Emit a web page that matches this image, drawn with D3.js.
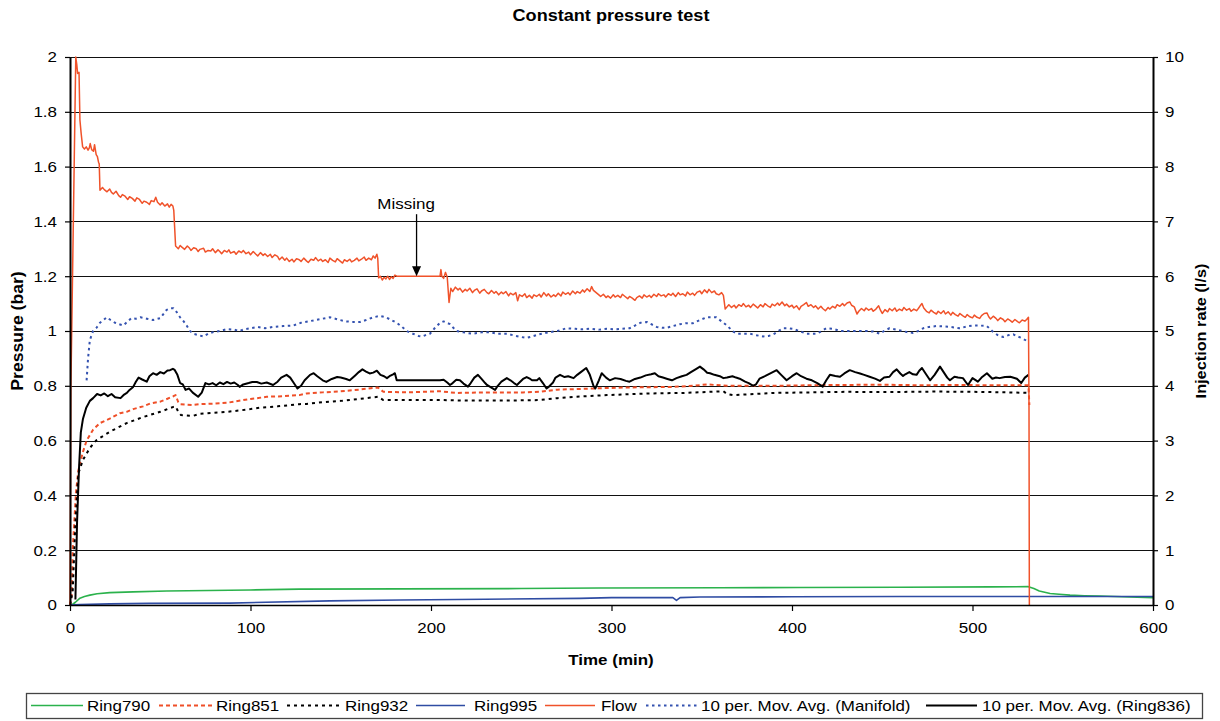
<!DOCTYPE html>
<html><head><meta charset="utf-8">
<script src="https://cdn.jsdelivr.net/npm/d3@7"></script>
<style>body{margin:0;background:#fff} text{font-family:"Liberation Sans",Arial,sans-serif}</style>
</head><body><svg id="c" width="1220" height="721"></svg>
<script>
// ---------- DATA ----------
const timeTicks = [0,100,200,300,400,500,600];
const pressureTicks = [0,0.2,0.4,0.6,0.8,1,1.2,1.4,1.6,1.8,2];
const rateTicks = [0,1,2,3,4,5,6,7,8,9,10];
const seriesNames = ["Ring790","Ring851","Ring932","Ring995","Flow","10 per. Mov. Avg. (Manifold)","10 per. Mov. Avg. (Ring836)"];

// [time (min), pressure (bar)]
const ring790 = [[0,0],[1,0],[3,0.01],[5.5,0.025],[8,0.031],[11,0.036],[15,0.041],[22,0.045],[35,0.048],[53.6,0.051],[100,0.055],[127,0.058],[183,0.059],[250,0.06],[293,0.062],[360,0.063],[404,0.064],[460,0.065],[510,0.066],[531,0.067],[534,0.06],[537,0.051],[543,0.042],[548,0.039],[554,0.036],[562,0.034],[570.6,0.033],[587,0.029],[600,0.027]];
const ring851 = [[0,0],[1,0.04],[1.5,0.2],[3.3,0.41],[4.6,0.49],[7,0.555],[9.2,0.6],[12.8,0.64],[16.6,0.664],[22,0.68],[27.7,0.70],[31.4,0.705],[35,0.715],[40.5,0.725],[44.3,0.735],[50,0.742],[53.7,0.752],[57.3,0.762],[58.5,0.766],[60,0.74],[61,0.733],[68,0.73],[72,0.733],[80,0.735],[87,0.738],[90.5,0.742],[100,0.752],[105,0.756],[109,0.76],[118,0.762],[127,0.766],[131,0.772],[140,0.776],[150,0.78],[160,0.786],[170.6,0.794],[173.6,0.778],[186.5,0.776],[195,0.778],[205,0.78],[214,0.774],[233,0.776],[251,0.776],[260,0.778],[270,0.786],[280,0.788],[297.5,0.792],[310,0.794],[334,0.796],[345,0.8],[353,0.805],[364,0.8],[372,0.8],[390,0.8],[410,0.802],[426,0.803],[450,0.804],[470,0.802],[490,0.803],[510,0.802],[531,0.802],[531.5,0.73]];
const ring932 = [[0,0],[1.5,0.05],[3,0.3],[4.6,0.48],[7.2,0.53],[11,0.573],[14.7,0.602],[22,0.632],[31.4,0.664],[40.5,0.686],[50,0.705],[57.3,0.723],[58.5,0.725],[60,0.705],[61.5,0.693],[68,0.69],[72,0.698],[87,0.705],[94,0.71],[100,0.715],[105,0.72],[115,0.725],[127,0.733],[131,0.734],[140,0.74],[150,0.745],[160,0.752],[170.6,0.76],[173.6,0.748],[190,0.748],[205,0.748],[220,0.746],[242,0.746],[260,0.748],[270,0.755],[280,0.76],[297.5,0.766],[320,0.772],[340,0.774],[362,0.78],[364,0.77],[367.5,0.766],[389.6,0.774],[410,0.776],[430,0.778],[450,0.777],[480,0.779],[500,0.778],[520,0.776],[531,0.774]];
const ring995 = [[0,0],[5.5,0.002],[22,0.004],[44,0.006],[88.6,0.007],[144,0.015],[183,0.018],[230,0.021],[282.5,0.024],[300,0.027],[334,0.027],[336,0.017],[338,0.027],[349,0.029],[400,0.03],[460,0.031],[531,0.031],[600,0.031]];
// [time (min), injection rate (l/s)]
const flow = [[0,0],[0.5,4.0],[3.2,10.0],[3.8,9.85],[4.2,9.7],[5.0,9.72],[5.5,8.85],[6.2,8.6],[7.0,8.36],[8,8.32],[9,8.36],[10,8.3],[10.7,8.34],[11.2,8.42],[12,8.31],[13,8.28],[13.6,8.4],[14.5,8.22],[15.2,8.18],[15.8,8.08],[16.2,8.05],[16.6,7.57],
[18,7.62],[19,7.58],[20.5,7.54],[22,7.59],[23,7.53],[24,7.50],[25.5,7.55],[27,7.47],[28,7.44],[29,7.49],[30.5,7.46],[32,7.40],[33,7.45],[34.5,7.42],[36,7.37],[37,7.43],[38.5,7.40],[40,7.33],[41,7.37],[42.5,7.35],[44,7.31],[45,7.38],[46.5,7.36],[47.5,7.44],[48.5,7.35],[50,7.30],[51,7.34],[52.5,7.28],[54,7.32],[55,7.26],[56,7.31],[57,7.28],[57.5,7.20],
[58.5,6.55],[60,6.50],[61,6.56],[62,6.53],[63.5,6.49],[65,6.55],[66,6.52],[67,6.47],[68.5,6.52],[70,6.50],[71,6.45],[72,6.49],[74,6.51],[75,6.44],[76.5,6.47],[78,6.46],[79,6.50],[80.5,6.43],[82,6.48],[83,6.45],[84,6.41],[85.5,6.47],[87,6.44],[88,6.48],[89,6.42],[91,6.45],[92,6.40],[93.5,6.46],[95,6.43],[96,6.47],[97.5,6.41],[99,6.44],[100,6.39],[101.5,6.45],[103,6.40],[104,6.37],[105.5,6.43],[107,6.38],[108,6.41],[109.5,6.36],[111,6.40],[112,6.34],[113.5,6.39],[115,6.36],[116,6.30],[117.5,6.35],[119,6.29],[120,6.33],[121.5,6.27],[123,6.31],[124,6.26],[125.5,6.32],[127,6.30],[128,6.27],[129.5,6.33],[131,6.28],[132,6.25],[133.5,6.31],[135,6.29],[136,6.34],[137.5,6.28],[139,6.31],[140,6.27],[141.5,6.30],[143,6.25],[144,6.33],[145.5,6.29],[147,6.26],[148,6.32],[149.5,6.28],[151,6.24],[152,6.30],[153.5,6.27],[155,6.31],[156,6.26],[157.5,6.29],[159,6.33],[160,6.28],[161.5,6.31],[163,6.35],[164,6.29],[165.5,6.33],[167,6.30],[168,6.37],[169,6.33],[170,6.40],[170.5,6.33],
[171,5.97],[172,6.00],[173,5.93],[174,5.98],[175,5.95],[176,6.00],[177,5.94],[178,5.99],[179,5.96],[180,6.02],[181,6.0],[205,6.0],[205.5,6.12],[206,6.0],[207,5.96],[208,6.07],[209,5.98],
[210,5.52],[211,5.78],[212,5.72],[213.5,5.80],[215,5.75],[216,5.78],[217.5,5.71],[219,5.76],[220,5.73],[221.5,5.78],[223,5.70],[224,5.74],[225.5,5.77],[227,5.69],[228,5.73],[229.5,5.76],[231,5.70],[232,5.68],[233.5,5.74],[235,5.69],[236,5.72],[237.5,5.66],[239,5.71],[240,5.68],[241.5,5.72],[243,5.64],[244,5.69],[245.5,5.66],[247,5.70],[248,5.55],[249,5.66],[250.5,5.63],[252,5.68],[253,5.61],[254.5,5.65],[256,5.60],[257,5.66],[258.5,5.63],[260,5.67],[261,5.62],[262.5,5.70],[264,5.64],[265,5.68],[266.5,5.62],[268,5.66],[269,5.63],[270.5,5.69],[272,5.64],[273,5.71],[274.5,5.67],[276,5.70],[277,5.66],[278.5,5.73],[280,5.68],[281,5.72],[282.5,5.69],[284,5.75],[285,5.71],[286.5,5.77],[288,5.72],[289,5.81],[290,5.74],[291.5,5.70],[293,5.66],[294,5.63],[295.5,5.67],[297,5.61],[298,5.64],[299.5,5.60],[301,5.66],[302,5.62],[303.5,5.65],[305,5.61],[306,5.67],[307.5,5.63],[309,5.59],[310,5.63],[311.5,5.60],[313,5.56],[314,5.61],[315.5,5.64],[317,5.60],[318,5.66],[319.5,5.62],[321,5.65],[322,5.61],[323.5,5.67],[325,5.63],[326,5.68],[327.5,5.64],[329,5.66],[330,5.62],[331.5,5.68],[333,5.65],[334,5.69],[335.5,5.63],[337,5.70],[338,5.66],[339.5,5.68],[341,5.64],[342,5.71],[343.5,5.66],[345,5.69],[346,5.65],[347.5,5.71],[349,5.73],[350,5.68],[351.5,5.75],[353,5.70],[354,5.76],[355.5,5.70],[357,5.73],[358,5.68],[359.5,5.66],[361,5.70],[362,5.65],[363,5.40],
[364,5.44],[365,5.48],[366.5,5.43],[368,5.47],[369,5.42],[370.5,5.48],[372,5.45],[373,5.50],[374.5,5.44],[376,5.47],[377,5.43],[378.5,5.49],[380,5.45],[381,5.42],[382.5,5.48],[384,5.44],[385,5.50],[386.5,5.46],[388,5.43],[389,5.49],[390.5,5.46],[392,5.51],[393,5.47],[394.5,5.53],[396,5.46],[397,5.49],[398.5,5.44],[400,5.47],[401,5.42],[402.5,5.46],[404,5.39],[405,5.45],[406.5,5.48],[408,5.52],[409,5.45],[410.5,5.48],[412,5.43],[413,5.46],[414.5,5.40],[416,5.45],[417,5.41],[418.5,5.37],[420,5.43],[421,5.40],[422.5,5.45],[424,5.42],[425,5.48],[426.5,5.45],[428,5.50],[429,5.46],[430.5,5.51],[432,5.53],[433,5.47],[434.5,5.44],[436,5.31],[437,5.36],[438.5,5.41],[440,5.37],[441,5.42],[442.5,5.38],[444,5.41],[445,5.36],[446.5,5.40],[448,5.46],[449,5.38],[450,5.32],[451.5,5.39],[453,5.35],[454,5.41],[455.5,5.37],[457,5.42],[458,5.36],[459.5,5.40],[461,5.37],[462,5.43],[463.5,5.38],[465,5.41],[466,5.36],[467.5,5.40],[469,5.37],[470,5.41],[471,5.46],[472,5.50],[473,5.42],[474.5,5.36],[476,5.33],[477,5.38],[478.5,5.34],[480,5.31],[481,5.36],[482.5,5.32],[484,5.37],[485,5.31],[486.5,5.35],[488,5.29],[489,5.34],[490.5,5.30],[492,5.27],[493,5.32],[494.5,5.28],[496,5.25],[497,5.30],[498.5,5.26],[500,5.24],[501,5.29],[502.5,5.25],[504,5.23],[505,5.28],[506.5,5.32],[508,5.33],[509,5.26],[510,5.22],[511.5,5.27],[513,5.23],[514,5.19],[515.5,5.24],[517,5.21],[518,5.17],[519.5,5.22],[521,5.19],[522,5.16],[523.5,5.21],[525,5.17],[526,5.15],[527.5,5.20],[529,5.18],[530,5.21],[531,5.25],[531.3,3.65],[531.5,0]];
const manifoldAvg = [[9.2,0.82],[10,0.9],[11,0.967],[12.8,1.0],[14.5,1.01],[16.6,1.03],[18.5,1.04],[20.4,1.05],[22.5,1.04],[25,1.03],[27,1.025],[29.5,1.02],[32,1.035],[34,1.047],[36.5,1.045],[39,1.05],[42.5,1.045],[46,1.04],[50,1.047],[53.5,1.077],[55.5,1.083],[57.3,1.083],[59,1.07],[61,1.05],[63,1.035],[64.6,1.02],[66.5,1.0],[68.3,0.99],[71,0.985],[73.9,0.98],[76.5,0.99],[79.4,0.996],[83,1.0],[87,1.007],[91,1.005],[94,1.0],[96,1.005],[100,1.01],[104,1.015],[108,1.01],[112.5,1.015],[118,1.018],[123.7,1.02],[128,1.03],[132,1.035],[136,1.04],[140,1.045],[144,1.05],[147,1.045],[149.6,1.04],[153,1.035],[157,1.033],[160.7,1.033],[164,1.04],[168,1.05],[171.7,1.055],[175,1.05],[178,1.04],[181,1.03],[184,1.015],[186.5,1.0],[190,0.99],[193,0.982],[195,0.98],[197,0.985],[199.4,0.99],[202,1.01],[205,1.03],[207,1.035],[210.5,1.025],[214,1.0],[218,0.995],[223,0.99],[228,0.995],[232.7,0.995],[237,0.99],[242,0.99],[247,0.982],[250,0.978],[253,0.975],[256,0.98],[260,0.988],[265,0.995],[270,1.0],[275,1.01],[280,1.008],[284,1.006],[288,1.008],[293,1.005],[297.5,1.008],[302,1.006],[306,1.008],[310,1.01],[313,1.02],[316,1.03],[319.6,1.033],[322,1.025],[325,1.015],[328,1.012],[330.7,1.012],[334,1.018],[338,1.025],[341,1.028],[345,1.028],[349,1.04],[352.7,1.05],[355,1.05],[358,1.05],[361,1.035],[364,1.02],[367,1.0],[369.5,0.99],[373,0.99],[376.7,0.99],[380,0.985],[384,0.98],[387,0.982],[389.6,0.987],[392,0.998],[395,1.01],[398,1.01],[400.6,1.008],[404,1.0],[408,0.99],[411,0.99],[413.7,0.99],[416,0.998],[419,1.01],[423,1.008],[426.6,1.0],[432,1.0],[437.7,1.0],[441,1.0],[445,0.998],[448.7,0.99],[451,1.0],[454,1.01],[458,1.005],[463.6,0.996],[467,0.993],[470,1.0],[472.7,1.01],[476,1.015],[480,1.018],[484,1.017],[487.5,1.015],[491,1.012],[493,1.01],[497,1.017],[500.5,1.02],[504,1.02],[508,1.018],[511.5,0.996],[514,0.985],[517,0.978],[520,0.985],[522.6,0.988],[525,0.98],[527,0.975],[529,0.968],[531,0.96]];
const ring836Avg = [[3,0.02],[3.9,0.3],[5,0.5],[6,0.63],[7.2,0.68],[9,0.72],[11,0.745],[12.8,0.755],[15,0.77],[17,0.765],[19,0.772],[21,0.762],[23,0.77],[25,0.758],[28,0.755],[30,0.768],[31.5,0.774],[33,0.785],[35,0.796],[36.5,0.815],[38,0.83],[40,0.823],[42.5,0.815],[44,0.835],[46,0.846],[48,0.84],[50,0.85],[52,0.845],[54,0.856],[55.4,0.857],[57,0.862],[58,0.858],[59.5,0.84],[61,0.81],[62.5,0.805],[64,0.785],[66,0.79],[68,0.775],[71,0.76],[73,0.775],[75,0.81],[77,0.805],[79,0.81],[81,0.802],[83,0.812],[85,0.806],[87,0.814],[89,0.808],[91,0.812],[93,0.803],[94,0.796],[96,0.805],[99,0.81],[101,0.814],[103.5,0.814],[106,0.808],[109,0.812],[112.5,0.803],[115,0.815],[117,0.83],[120,0.84],[122,0.83],[124,0.81],[126,0.79],[128,0.8],[130,0.82],[133,0.84],[135,0.846],[137,0.835],[140,0.82],[142,0.814],[145,0.825],[148,0.832],[150,0.83],[153,0.825],[155,0.82],[158,0.838],[160,0.85],[162,0.86],[164,0.852],[166,0.845],[168,0.848],[170,0.855],[172,0.84],[174,0.835],[175.6,0.828],[177,0.835],[179,0.842],[180,0.846],[181,0.82],[204,0.82],[205,0.82],[207,0.822],[209,0.812],[210.5,0.803],[212,0.81],[214,0.822],[216,0.82],[218,0.808],[220.5,0.797],[222,0.81],[224,0.83],[226,0.84],[228,0.825],[230,0.81],[231,0.803],[233,0.795],[235.5,0.785],[237,0.8],[239,0.815],[242,0.828],[244,0.82],[246,0.81],[247.6,0.803],[249,0.812],[251,0.825],[253,0.832],[255,0.825],[256,0.82],[258.7,0.82],[260,0.828],[262,0.81],[264,0.79],[265,0.795],[267.6,0.812],[269,0.83],[271.5,0.84],[274,0.832],[276,0.835],[279,0.828],[281,0.84],[283,0.85],[286,0.865],[288,0.84],[290,0.8],[291,0.79],[293,0.82],[294.6,0.846],[297,0.83],[299,0.82],[302,0.828],[305,0.825],[308,0.818],[310,0.815],[313,0.825],[316,0.83],[319,0.838],[322,0.842],[324,0.846],[326,0.835],[328.5,0.83],[331,0.825],[333.5,0.82],[336,0.828],[339,0.835],[341.6,0.84],[344,0.85],[347,0.862],[349,0.87],[351,0.86],[353,0.848],[354.6,0.846],[357,0.84],[360,0.835],[362,0.828],[364,0.83],[367,0.835],[369,0.83],[371,0.826],[374,0.815],[376,0.81],[378.5,0.8],[380,0.805],[382,0.826],[385,0.835],[388,0.845],[391.5,0.857],[394,0.84],[397,0.82],[400,0.835],[402.6,0.846],[405,0.835],[408,0.826],[411,0.82],[414,0.81],[417,0.797],[419,0.82],[421,0.84],[424,0.836],[426.6,0.833],[429,0.845],[432,0.857],[435,0.85],[437.7,0.845],[440,0.84],[443,0.833],[446,0.826],[448.7,0.818],[451,0.83],[454,0.833],[456,0.85],[458,0.86],[460,0.845],[461.5,0.836],[463,0.843],[465,0.85],[467,0.842],[469,0.84],[470.5,0.855],[472,0.865],[474,0.845],[476.5,0.82],[479,0.84],[482,0.87],[484,0.85],[486,0.83],[487.5,0.82],[490,0.833],[492,0.83],[494.7,0.828],[497.5,0.803],[500,0.828],[503,0.815],[505,0.83],[508,0.846],[511,0.826],[513,0.83],[515,0.828],[518,0.832],[521,0.833],[524.6,0.826],[527,0.81],[529,0.83],[531,0.84]];

// annotation: flat gap in the flow record
const missingAt = [192, 6.0];

// ---------- CHART ----------
const svg = d3.select('#c');
const x  = d3.scaleLinear().domain([0,600]).range([70,1153]);
const yL = d3.scaleLinear().domain([0,2]).range([605,57]);
const yR = d3.scaleLinear().domain([0,10]).range([605,57]);
const SX = 1.13; // horizontal glyph stretch of the original
function stretch(sel,k){ k=k||SX; sel.each(function(){ const l=this.getComputedTextLength(); this.setAttribute('textLength',(l*k).toFixed(1)); this.setAttribute('lengthAdjust','spacingAndGlyphs'); }); }

const styles = [
  {data:ring790, axis:'L', color:'#2bb24c', width:1.6, dash:null},
  {data:ring851, axis:'L', color:'#ef4f28', width:2, dash:'4,3'},
  {data:ring932, axis:'L', color:'#000', width:2, dash:'3,4'},
  {data:ring995, axis:'L', color:'#2f4ca3', width:1.6, dash:null},
  {data:flow, axis:'R', color:'#f0522a', width:1.5, dash:null},
  {data:manifoldAvg, axis:'L', color:'#3452b0', width:2, dash:'2.5,3.5'},
  {data:ring836Avg, axis:'L', color:'#000', width:2, dash:null}
];

// gridlines
svg.append('g').selectAll('line').data(pressureTicks).join('line')
  .attr('x1',x(0)).attr('x2',x(600))
  .attr('y1',d=>Math.round(yL(d))+0.5).attr('y2',d=>Math.round(yL(d))+0.5)
  .attr('stroke','#111').attr('stroke-width',1.2);

// series
const drawOrder = [0,3,1,2,5,6,4];
drawOrder.forEach(i=>{
  const s = styles[i];
  const ys = s.axis==='L'? yL : yR;
  const line = d3.line().x(d=>x(d[0])).y(d=>ys(d[1]));
  svg.append('path').datum(s.data).attr('d',line)
    .attr('fill','none').attr('stroke',s.color).attr('stroke-width',s.width)
    .attr('stroke-dasharray',s.dash).attr('stroke-linejoin','round');
});

// axes
function styleAxis(g){
  g.attr('font-size',15).attr('font-family','"Liberation Sans",Arial,sans-serif');
  g.select('.domain').attr('stroke','#000').attr('stroke-width',2);
  g.selectAll('.tick line').attr('stroke','#000').attr('stroke-width',1.2);
  g.selectAll('.tick text').attr('fill','#000');
}
const fmt = d3.format('~g');
const gL = svg.append('g').attr('transform',`translate(${x(0)},0)`)
  .call(d3.axisLeft(yL).tickValues(pressureTicks).tickFormat(fmt).tickSize(5).tickSizeOuter(0).tickPadding(8));
styleAxis(gL);
const gR = svg.append('g').attr('transform',`translate(${x(600)},0)`)
  .call(d3.axisRight(yR).tickValues(rateTicks).tickFormat(fmt).tickSize(5).tickSizeOuter(0).tickPadding(7));
styleAxis(gR);
const gB = svg.append('g').attr('transform',`translate(0,${yL(0)})`)
  .call(d3.axisBottom(x).tickValues(timeTicks).tickFormat(fmt).tickSize(6).tickSizeOuter(0).tickPadding(11));
styleAxis(gB);
gB.select('.domain').attr('stroke-width',1.6);
[gL,gR,gB].forEach(g=>stretch(g.selectAll('.tick text')));

// titles
const title = svg.append('text').attr('x',611).attr('y',21).attr('text-anchor','middle')
  .attr('font-size',16).attr('font-weight','bold').text('Constant pressure test');
stretch(title);
const xt = svg.append('text').attr('x',611).attr('y',665).attr('text-anchor','middle')
  .attr('font-size',15).attr('font-weight','bold').text('Time (min)');
stretch(xt);
const yt1 = svg.append('text').attr('transform','translate(23,331) rotate(-90)').attr('text-anchor','middle')
  .attr('font-size',16).attr('font-weight','bold').text('Pressure (bar)');
stretch(yt1,1.1);
const yt2 = svg.append('text').attr('transform','translate(1206,331) rotate(-90)').attr('text-anchor','middle')
  .attr('font-size',15.5).attr('font-weight','bold').text('Injection rate (l/s)');
stretch(yt2,1.05);

// annotation
const ax = x(missingAt[0]), ay = yR(missingAt[1]);
svg.append('line').attr('x1',ax).attr('x2',ax).attr('y1',ay-62).attr('y2',ay-9)
  .attr('stroke','#000').attr('stroke-width',1.3);
svg.append('path').attr('d',`M${ax},${ay} L${ax-4.5},${ay-10} L${ax+4.5},${ay-10} Z`).attr('fill','#000');
const mt = svg.append('text').attr('x',x(missingAt[0]-5.8)).attr('y',ay-67).attr('text-anchor','middle')
  .attr('font-size',15).text('Missing');
stretch(mt);

// legend
svg.append('rect').attr('x',26.5).attr('y',693.5).attr('width',1176).attr('height',25)
  .attr('fill','#fff').attr('stroke','#444').attr('stroke-width',1.3);
const legendPos = [[31,83,87],[159,212,216],[287,342,345],[416,465,474],[545,595,601],[646,698,701],[926,977,982]];
seriesNames.forEach((name,i)=>{
  const s = styles[i], p = legendPos[i];
  svg.append('line').attr('x1',p[0]).attr('x2',p[1]).attr('y1',705.5).attr('y2',705.5)
    .attr('stroke',s.color).attr('stroke-width',s.width).attr('stroke-dasharray',s.dash);
  const t = svg.append('text').attr('x',p[2]).attr('y',711).attr('font-size',15).text(name);
  stretch(t);
});
</script></body></html>
